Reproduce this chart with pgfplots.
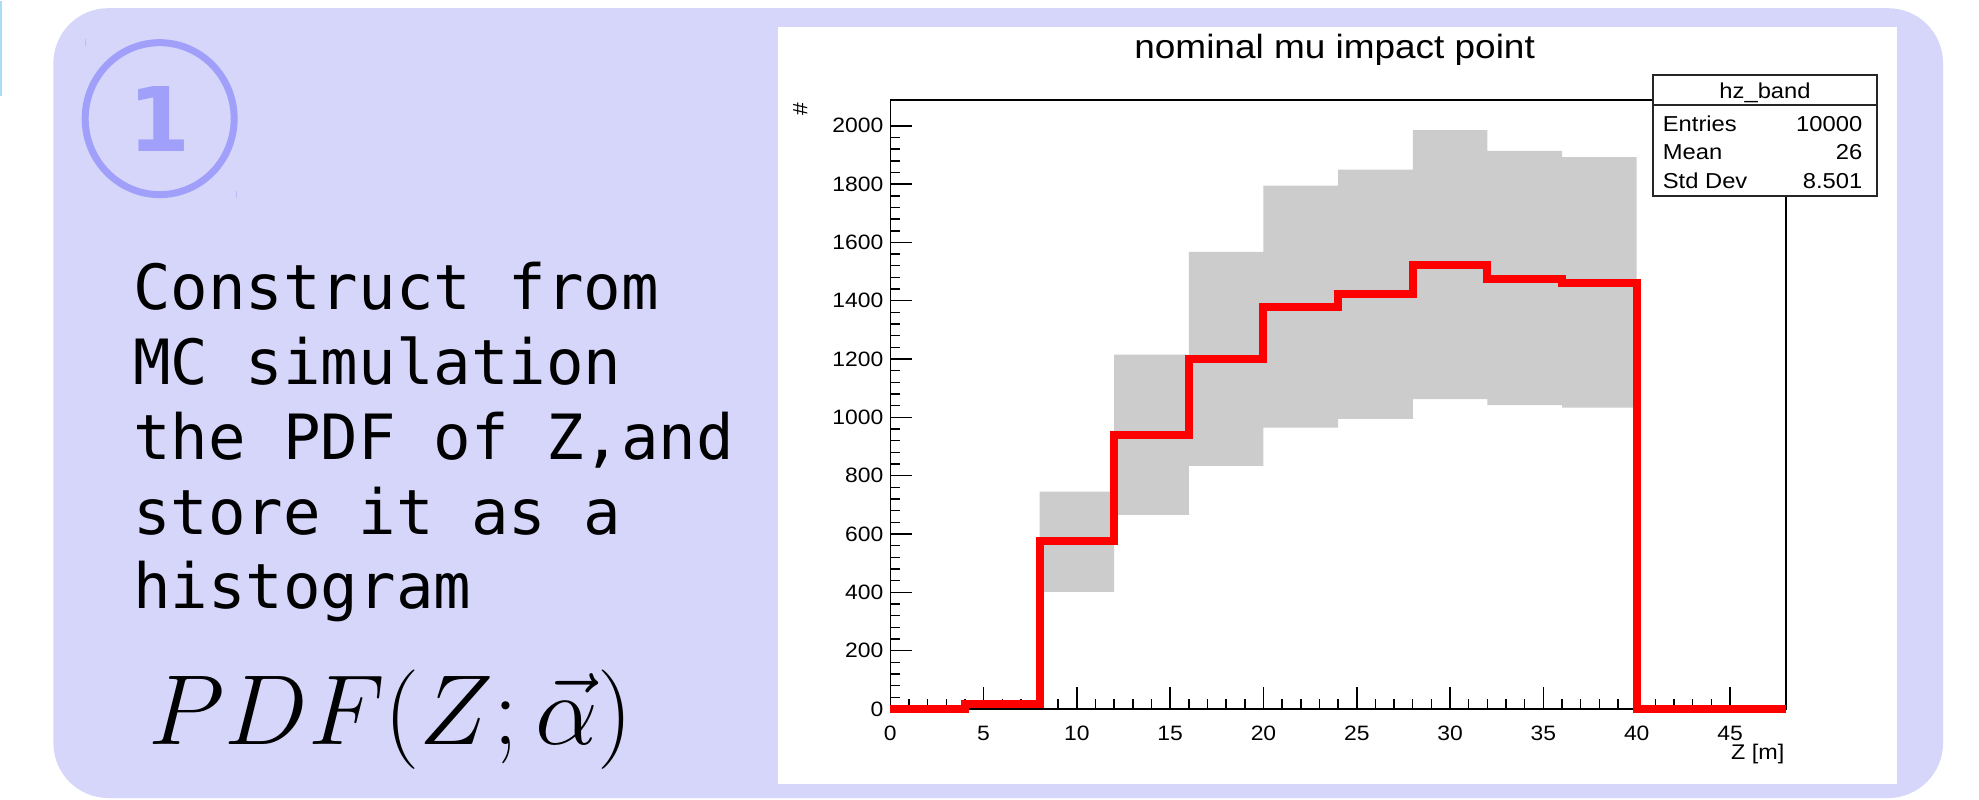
\documentclass[border=0pt]{standalone}
\usepackage{pgfplots}
\pgfplotsset{compat=1.18}
\usepackage{pgfplotstable}
\usepackage{fontspec}
\newfontfamily\rootfont[FakeStretch=1.1]{Liberation Sans}
\newfontfamily\monofont{DejaVu Sans Mono}
\newfontfamily\numfont{DejaVu Sans}

\definecolor{slide}{RGB}{214,214,251}
\definecolor{circ}{RGB}{160,160,250}
\definecolor{sliver}{RGB}{170,220,245}
\definecolor{bandgray}{RGB}{204,204,204}

% nominal histogram, bins of 4 m (value holds from z to z+4)
\pgfplotstableread{
z   nom
0   0
4   17
8   575
12  940
16  1200
20  1380
24  1424
28  1524
32  1476
36  1462
40  0
44  0
48  0
}\nominal

% grey band outline: upper edge left to right, lower edge right to left
\pgfplotstableread{
z   y
8   746
12  746
12  1215
16  1215
16  1568
20  1568
20  1795
24  1795
24  1850
28  1850
28  1985
32  1985
32  1914
36  1914
36  1893
40  1893
40  1034
36  1034
36  1042
32  1042
32  1063
28  1063
28  995
24  995
24  965
20  965
20  834
16  834
16  666
12  666
12  402
8   402
}\band

\begin{document}
\begin{tikzpicture}
% slide background, pixel coordinates from the top left
\begin{scope}[x=0.25pt, y=-0.25pt, yshift=199.5pt]
  \fill[white] (0,0) rectangle (1979,798);
  \draw[sliver, line width=0.6pt] (0.8,0) -- (0.8,95);
  \fill[slide, rounded corners=13.75pt] (53,7) rectangle (1943,797);
  \fill[white] (778,26) rectangle (1897,783);
  \draw[circ, line width=1.75pt] (159.3,117.5) ellipse [x radius=74.5, y radius=76];
  \node[text=circ, inner sep=0, font=\numfont\bfseries\fontsize{22.3}{26}\selectfont] at (159.5,117.5) {1};
  \draw[circ!70, line width=0.3pt] (85,38) -- (85,45);
  \draw[circ!70, line width=0.3pt] (236,190) -- (236,197);
  \begin{scope}[every node/.style={anchor=base west, inner sep=0, font=\monofont\fontsize{15.6}{18.75}\selectfont}]
    \node at (132,308) {Construct from};
    \node at (132,383) {MC simulation};
    \node at (132,458) {the PDF of Z,and};
    \node at (132,533) {store it as a};
    \node at (132,607) {histogram};
  \end{scope}
  \node[anchor=base west, inner sep=0, font=\fontsize{24.2}{30}\selectfont] at (147,743) {$PDF(Z;\vec{\alpha})$};
\end{scope}

\begin{axis}[
  at={(222.5pt,22.5pt)}, anchor=south west,
  scale only axis, width=224pt, height=152.25pt,
  xmin=0, xmax=48, ymin=0, ymax=2088,
  xtick={0,5,...,45}, ytick={0,200,...,2000},
  minor x tick num=4, minor y tick num=4,
  tick align=inside, xtick pos=left, ytick pos=left,
  major tick length=5.5pt, minor tick length=2.5pt,
  axis line style={line width=0.35pt, black},
  every tick/.style={black, line width=0.35pt},
  tick label style={font=\rootfont\fontsize{5.2}{6}\selectfont},
  xticklabel shift=0.8pt,
  yticklabel style={xshift=1.8pt},
  /pgf/number format/assume math mode=true,
  /pgf/number format/1000 sep={},
  clip=false,
]
\addplot[fill=bandgray, draw=none] table[x=z, y=y] {\band};
\addplot[const plot, red, line width=2pt, line join=miter] table[x=z, y=nom] {\nominal};
\end{axis}

% ROOT canvas texts and stats box
\begin{scope}[x=0.25pt, y=-0.25pt, yshift=199.5pt]
  \node[anchor=base, inner sep=0, font=\rootfont\fontsize{8.4}{10}\selectfont] at (1334.5,57) {nominal mu impact point};
  \node[rotate=90, inner sep=0, font=\rootfont\fontsize{5.2}{6}\selectfont] at (800,108) {\#};
  \node[anchor=base east, inner sep=0, font=\rootfont\fontsize{5.3}{6}\selectfont] at (1785,758) {Z [m]};
  \fill[white] (1653,74) rectangle (1877,195);
  \draw[line width=0.35pt, black!85] (1653,74) rectangle (1877,195);
  \draw[line width=0.35pt, black!85] (1653,104) -- (1877,104);
  \begin{scope}[every node/.style={inner sep=0, font=\rootfont\fontsize{5.4}{6}\selectfont}]
    \node[anchor=base] at (1765,97) {hz\_band};
    \node[anchor=base west] at (1662,130) {Entries};
    \node[anchor=base east] at (1863,130) {10000};
    \node[anchor=base west] at (1662,158) {Mean};
    \node[anchor=base east] at (1863,158) {26};
    \node[anchor=base west] at (1662,187) {Std Dev};
    \node[anchor=base east] at (1863,187) {8.501};
  \end{scope}
\end{scope}
\end{tikzpicture}
\end{document}
